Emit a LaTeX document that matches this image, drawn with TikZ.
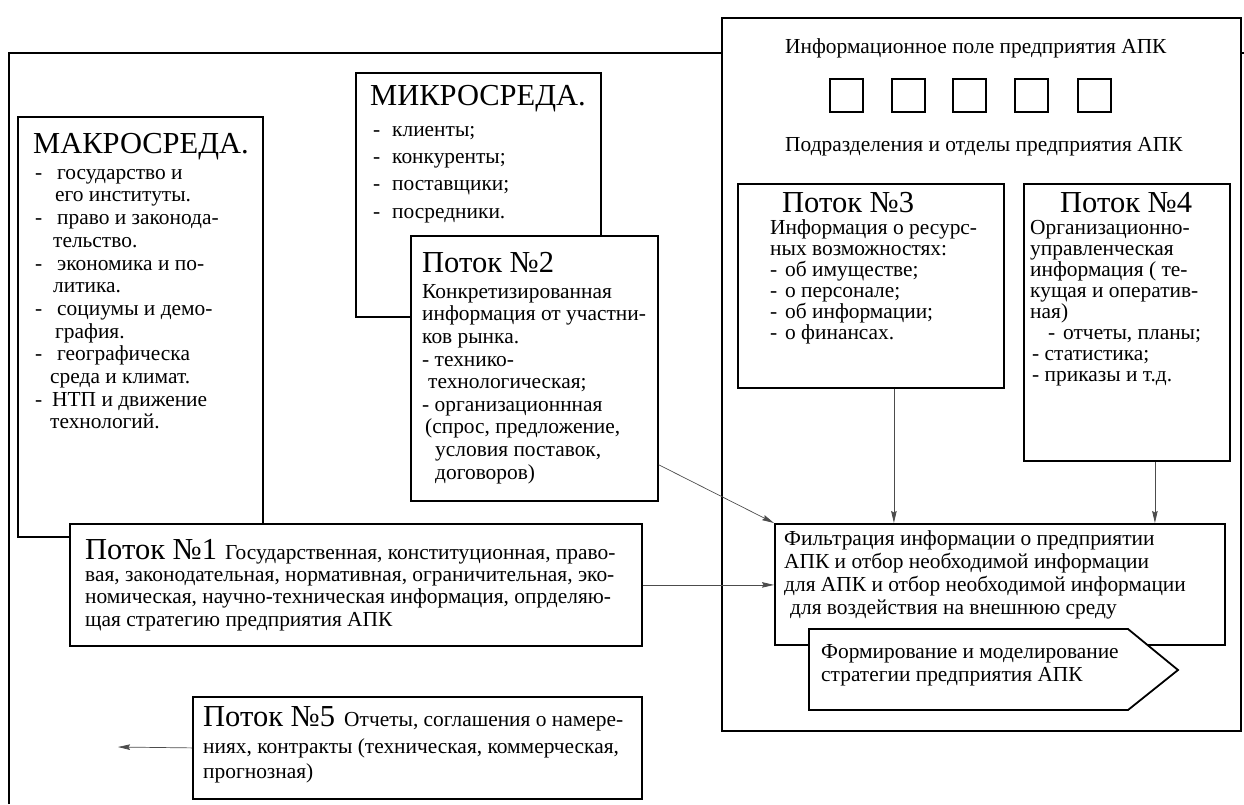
\documentclass[tikz,border=0pt]{standalone}
\usepackage{fontspec}
\setmainfont{Liberation Serif}
\usetikzlibrary{arrows.meta}

% body text size with a given line pitch
\newcommand\bodysize[1]{\fontsize{21.4}{#1}\selectfont}
% large headings
\newcommand\headsize[1]{\fontsize{#1}{#1}\selectfont}

\begin{document}
\begin{tikzpicture}[x=1pt, y=-1pt,
  frame/.style={line width=1.8pt},
  box/.style={draw, line width=1.8pt, fill=white, anchor=north west, inner sep=0pt},
  sq/.style={draw, line width=1.5pt, anchor=north west, inner sep=0pt, minimum width=33pt, minimum height=33pt},
  txt/.style={anchor=north west, inner sep=0pt, align=left},
  head/.style={anchor=base west, inner sep=0pt},
  link/.style={draw=black!70, line width=0.7pt, -{Stealth[length=12pt,width=5.5pt,inset=1.5pt]}},
]
\useasboundingbox (0,0) rectangle (1244,804);

% enclosing frame of the external environment
\draw[frame] (9,804) -- (9,53) -- (1244,53);

% macro-environment
\node[box, minimum width=245pt, minimum height=420pt] (macro) at (17,116) {};
\node[head, font=\headsize{30.5}] (macrotitle) at (33,153) {МАКРОСРЕДА.};
\node[txt, font=\bodysize{22.7}] (macrotxt) at (35,163.1) {\strut\makebox[22pt][l]{-}государство и\\
\hspace*{20pt}его институты.\\
\makebox[22pt][l]{-}право и законода-\\
\hspace*{18pt}тельство.\\
\makebox[22pt][l]{-}экономика и по-\\
\hspace*{18pt}литика.\\
\makebox[22pt][l]{-}социумы и демо-\\
\hspace*{20pt}графия.\\
\makebox[22pt][l]{-}географическа\\
\hspace*{15pt}среда и климат.\\
\makebox[17pt][l]{-}НТП и движение\\
\hspace*{15pt}технологий.};

% micro-environment
\node[box, minimum width=245pt, minimum height=244pt] (micro) at (355,72) {};
\node[head, font=\headsize{30.5}] (microtitle) at (370,105) {МИКРОСРЕДА.};
\node[txt, font=\bodysize{27.3}] (microtxt) at (373,116.9) {\strut\makebox[19pt][l]{-}клиенты;\\
\makebox[19pt][l]{-}конкуренты;\\
\makebox[19pt][l]{-}поставщики;\\
\makebox[19pt][l]{-}посредники.};

% flow 2
\node[box, minimum width=247pt, minimum height=265pt] (flow2) at (410,235) {};
\node[head, font=\headsize{30.5}] (flow2title) at (422,272) {Поток №2};
\node[txt, font=\bodysize{22.6}] (flow2txt) at (422,282.2) {\strut Конкретизированная\\
информация от участни-\\
ков рынка.\\
- технико-\\
\hspace*{6pt}технологическая;\\
- организационнная\\
\hspace*{3pt}(спрос, предложение,\\
\hspace*{13pt}условия поставок,\\
\hspace*{13pt}договоров)};

% information field of the enterprise
\node[box, minimum width=519pt, minimum height=713pt] (info) at (721,17) {};
\node[head, font=\bodysize{22}] (infotitle) at (785,53) {Информационное поле предприятия АПК};
\foreach \i/\x in {1/829, 2/891, 3/952, 4/1014, 5/1077}
  \node[sq] (sq\i) at (\x,78) {};
\node[head, font=\bodysize{22}] (depts) at (785,151) {Подразделения и отделы предприятия АПК};

% flow 3
\node[box, minimum width=266pt, minimum height=204pt] (flow3) at (737,183) {};
\node[head, font=\headsize{30.5}] (flow3title) at (782,212) {Поток №3};
\node[txt, font=\bodysize{21}] (flow3txt) at (770,219.3) {\strut Информация о ресурс-\\
ных возможностях:\\
\makebox[15pt][l]{-}об имуществе;\\
\makebox[15pt][l]{-}о персонале;\\
\makebox[15pt][l]{-}об информации;\\
\makebox[15pt][l]{-}о финансах.};

% flow 4
\node[box, minimum width=206pt, minimum height=277pt] (flow4) at (1023,183) {};
\node[head, font=\headsize{30.5}] (flow4title) at (1060,212) {Поток №4};
\node[txt, font=\bodysize{21}] (flow4txt) at (1030,219.3) {\strut Организационно-\\
управленческая\\
информация ( те-\\
кущая и оператив-\\
ная)\\
\hspace*{18pt}\makebox[15pt][l]{-}отчеты, планы;\\
\hspace*{2pt}- статистика;\\
\hspace*{2pt}- приказы и т.д.};

% filtering block
\node[box, minimum width=450pt, minimum height=121pt] (filt) at (774,523) {};
\node[txt, font=\bodysize{23}] (filttxt) at (784,528.9) {\strut Фильтрация информации о предприятии\\
АПК и отбор необходимой информации\\
для АПК и отбор необходимой информации\\
\hspace*{6pt}для воздействия на внешнюю среду};

% strategy pointer
\draw[line width=1.8pt, fill=white] (809,629) -- (1128,629) -- (1178,670) -- (1128,710) -- (809,710) -- cycle;
\node[txt, font=\bodysize{23}] (strattxt) at (821,641.9) {\strut Формирование и моделирование\\
стратегии предприятия АПК};

% flow 1
\node[box, minimum width=572pt, minimum height=122pt] (flow1) at (69,523) {};
\node[head, font=\headsize{30.5}] (flow1title) at (85,559) {Поток №1};
\node[head, font=\bodysize{22.5}] (flow1first) at (225,559) {Государственная, конституционная, право-};
\node[txt, font=\bodysize{22.5}] (flow1txt) at (85,565.3) {\strut вая, законодательная, нормативная, ограничительная, эко-\\
номическая, научно-техническая информация, опрделяю-\\
щая стратегию предприятия АПК};

% flow 5
\node[box, minimum width=449pt, minimum height=102pt] (flow5) at (192,696) {};
\node[head, font=\headsize{30.5}] (flow5title) at (203,726) {Поток №5};
\node[head, font=\bodysize{25.5}] (flow5first) at (344,726) {Отчеты, соглашения о намере-};
\node[txt, font=\bodysize{25.5}] (flow5txt) at (203,735.2) {\strut ниях, контракты (техническая, коммерческая,\\
прогнозная)};
\coordinate (out5) at (118,747);

% connectors
\draw[link] ([yshift=37pt]flow2.south east) -- (filt.north west);
\draw[link] (flow1.east) -- (flow1.east -| filt.west);
\draw[link] ([xshift=23pt]flow3.south) -- ([xshift=23pt]flow3.south |- filt.north);
\draw[link] ([xshift=28pt]flow4.south) -- ([xshift=28pt]flow4.south |- filt.north);
\draw[link] (flow5.west) -- (out5);
\end{tikzpicture}
\end{document}
